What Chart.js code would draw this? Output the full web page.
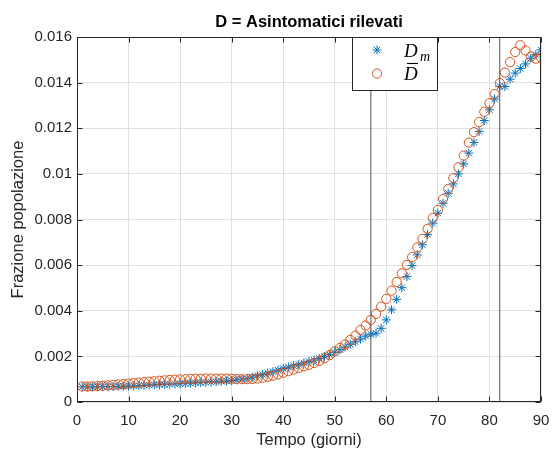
<!DOCTYPE html>
<html><head><meta charset="utf-8">
<script src="https://cdn.jsdelivr.net/npm/chart.js@4/dist/chart.umd.min.js"></script>
<style>html,body{margin:0;padding:0;background:#fff;}canvas{display:block;}</style>
</head><body>
<canvas id="c" width="552" height="454"></canvas>
<script>
const days = [1,2,3,4,5,6,7,8,9,10,11,12,13,14,15,16,17,18,19,20,21,22,23,24,25,26,27,28,29,30,
  31,32,33,34,35,36,37,38,39,40,41,42,43,44,45,46,47,48,49,50,51,52,53,54,55,56,57,58,59,60,
  61,62,63,64,65,66,67,68,69,70,71,72,73,74,75,76,77,78,79,80,81,82,83,84,85,86,87,88,89,90];
const Dm = [0.00066,0.00066,0.00066,0.00067,0.00067,0.00068,0.00068,0.00069,0.00069,0.00070,
  0.00071,0.00072,0.00073,0.00074,0.00075,0.00076,0.00077,0.00078,0.00079,0.00080,
  0.00081,0.00082,0.00084,0.00085,0.00086,0.00088,0.00089,0.00091,0.00092,0.00094,
  0.00097,0.00100,0.00104,0.00109,0.00115,0.00121,0.00127,0.00133,0.00140,0.00147,
  0.00153,0.00159,0.00165,0.00171,0.00177,0.00184,0.00191,0.00199,0.00208,0.00218,
  0.00229,0.00241,0.00253,0.00264,0.00276,0.00289,0.00297,0.00301,0.00323,0.00360,
  0.00404,0.00450,0.00501,0.00550,0.00598,0.00645,0.00689,0.00734,0.00784,0.00828,
  0.00871,0.00915,0.00956,0.01000,0.01044,0.01091,0.01138,0.01186,0.01234,0.01281,
  0.01328,0.01383,0.01383,0.01415,0.01442,0.01462,0.01482,0.01507,0.01523,0.01544];
const Dbar = [0.00068,0.00068,0.00069,0.00070,0.00071,0.00073,0.00075,0.00077,0.00079,0.00081,
  0.00083,0.00085,0.00087,0.00089,0.00091,0.00093,0.00095,0.00097,0.00098,0.00099,
  0.00100,0.00101,0.00102,0.00102,0.00103,0.00103,0.00103,0.00103,0.00103,0.00102,
  0.00101,0.00100,0.00100,0.00101,0.00103,0.00106,0.00110,0.00115,0.00121,0.00128,
  0.00135,0.00142,0.00149,0.00156,0.00163,0.00171,0.00180,0.00192,0.00206,0.00222,
  0.00237,0.00252,0.00272,0.00291,0.00316,0.00335,0.00360,0.00386,0.00418,0.00452,
  0.00488,0.00526,0.00564,0.00601,0.00635,0.00678,0.00715,0.00759,0.00806,0.00842,
  0.00890,0.00934,0.00981,0.01029,0.01080,0.01137,0.01183,0.01227,0.01272,0.01310,
  0.01350,0.01398,0.01444,0.01490,0.01534,0.01564,0.01541,0.01514,0.01505,0.01510];
const markerDays = [57, 82];
const xTickValues = [0,10,20,30,40,50,60,70,80,90];
const yTickValues = [0,0.002,0.004,0.006,0.008,0.010,0.012,0.014,0.016];
const yTickLabels = ['0','0.002','0.004','0.006','0.008','0.01','0.012','0.014','0.016'];
const titleText = 'D = Asintomatici rilevati';
const xLabel = 'Tempo (giorni)';
const yLabel = 'Frazione popolazione';
const legendMain = ['D', 'D'];
const legendSub = ['m', ''];

const BLUE = '#0072BD', ORANGE = '#D95319', AX = '#262626';
const SANS = '"Liberation Sans", Arial, Helvetica, sans-serif';

const vlineSets = markerDays.map(d => ({
  type: 'line',
  data: [{x: d, y: yTickValues[0]}, {x: d, y: yTickValues[yTickValues.length - 1]}],
  borderColor: '#555555', borderWidth: 1, pointRadius: 0, showLine: true, fill: false
}));

const boxPlugin = {
  id: 'boxTicks',
  afterDatasetsDraw(chart) {
    const ctx = chart.ctx, a = chart.chartArea;
    const xs = chart.scales.x, ys = chart.scales.y;
    const L = Math.round(a.left) + 0.5, R = Math.round(a.right) - 0.5;
    const T = Math.round(a.top) + 0.5, B = Math.round(a.bottom) - 0.5;
    ctx.save();
    ctx.strokeStyle = AX; ctx.lineWidth = 1;
    ctx.beginPath();
    const tl = 5;
    xs.ticks.forEach(t => {
      const p = Math.round(xs.getPixelForValue(t.value)) + 0.5;
      ctx.moveTo(p, B); ctx.lineTo(p, B - tl);
      ctx.moveTo(p, T); ctx.lineTo(p, T + tl);
    });
    ys.ticks.forEach(t => {
      const p = Math.round(ys.getPixelForValue(t.value)) + 0.5;
      ctx.moveTo(L, p); ctx.lineTo(L + tl, p);
      ctx.moveTo(R, p); ctx.lineTo(R - tl, p);
    });
    ctx.stroke();
    ctx.strokeRect(L, T, R - L, B - T);
    ctx.restore();
  },
  afterDraw(chart) {
    const ctx = chart.ctx, a = chart.chartArea;
    const bx = a.left + 275.5, by = a.top + 0.5, bw = 85, bh = 53;
    ctx.save();
    ctx.fillStyle = '#fff'; ctx.fillRect(bx, by, bw, bh);
    ctx.strokeStyle = AX; ctx.lineWidth = 1; ctx.strokeRect(bx, by, bw, bh);
    const sets = [chart.data.datasets[3], chart.data.datasets[2]];
    const rowsY = [by + 12.5, by + 36];
    sets.forEach((ds, i) => {
      ctx.strokeStyle = ds.borderColor; ctx.fillStyle = 'rgba(0,0,0,0)';
      Chart.helpers.drawPoint(ctx, {pointStyle: ds.pointStyle, radius: ds.pointRadius, borderWidth: ds.borderWidth, rotation: 0}, bx + 24.5, rowsY[i]);
      ctx.fillStyle = '#000';
      ctx.font = 'italic 19px "Liberation Serif", "DejaVu Serif", serif';
      ctx.textBaseline = 'alphabetic'; ctx.textAlign = 'left';
      const base = rowsY[i] + 6.5;
      ctx.fillText(legendMain[i], bx + 51.5, base);
      if (legendSub[i]) {
        ctx.font = 'italic 14px "Liberation Serif", "DejaVu Serif", serif';
        ctx.fillText(legendSub[i], bx + 67.5, base + 4);
      } else {
        ctx.strokeStyle = '#000'; ctx.lineWidth = 1.1;
        ctx.beginPath(); ctx.moveTo(bx + 54.5, base - 16.5); ctx.lineTo(bx + 65.5, base - 16.5); ctx.stroke();
      }
    });
    ctx.restore();
  }
};

new Chart(document.getElementById('c'), {
  type: 'scatter',
  data: {
    datasets: [
      vlineSets[0], vlineSets[1],
      { label: 'D\u0304', data: days.map((d, i) => ({x: d, y: Dbar[i]})), pointStyle: 'circle',
        pointRadius: 4.6, borderColor: ORANGE, backgroundColor: 'rgba(0,0,0,0)', borderWidth: 1, showLine: false },
      { label: 'D_m', data: days.map((d, i) => ({x: d, y: Dm[i]})), pointStyle: 'star',
        pointRadius: 4.5, borderColor: BLUE, backgroundColor: BLUE, borderWidth: 1, showLine: false }
    ]
  },
  options: {
    responsive: false, animation: false, devicePixelRatio: 1,
    layout: {padding: {left: 0, right: 11, top: 0, bottom: 0}},
    plugins: {
      legend: {display: false}, tooltip: {enabled: false},
      title: {display: true, text: titleText, fullSize: false, color: '#000',
        font: {family: SANS, size: 16.5, weight: 'bold'}, padding: {top: 13, bottom: 4.2}}
    },
    scales: {
      x: {
        type: 'linear', min: 0, max: 90,
        afterBuildTicks: s => { s.ticks = xTickValues.map(v => ({value: v})); },
        afterFit: s => { s.height = 52; s.paddingRight = 0; s.paddingLeft = 0; },
        grid: {color: '#e0e0e0', lineWidth: 1, drawTicks: false},
        border: {display: false},
        ticks: {color: AX, font: {family: SANS, size: 15}, padding: 10, maxRotation: 0, autoSkip: false},
        title: {display: true, text: xLabel, color: AX, font: {family: SANS, size: 16.5}, padding: {top: 0, bottom: 3.5}}
      },
      y: {
        type: 'linear', min: 0, max: 0.016,
        afterBuildTicks: s => { s.ticks = yTickValues.map(v => ({value: v})); },
        afterFit: s => { s.width = 77; },
        grid: {color: '#e0e0e0', lineWidth: 1, drawTicks: false},
        border: {display: false},
        ticks: {color: AX, font: {family: SANS, size: 15}, padding: 5, autoSkip: false,
          callback: (v, i) => yTickLabels[i]},
        title: {display: true, text: yLabel, color: AX, font: {family: SANS, size: 16.5}, padding: {top: 9, bottom: 0}}
      }
    }
  },
  plugins: [boxPlugin]
});
</script>
</body></html>
